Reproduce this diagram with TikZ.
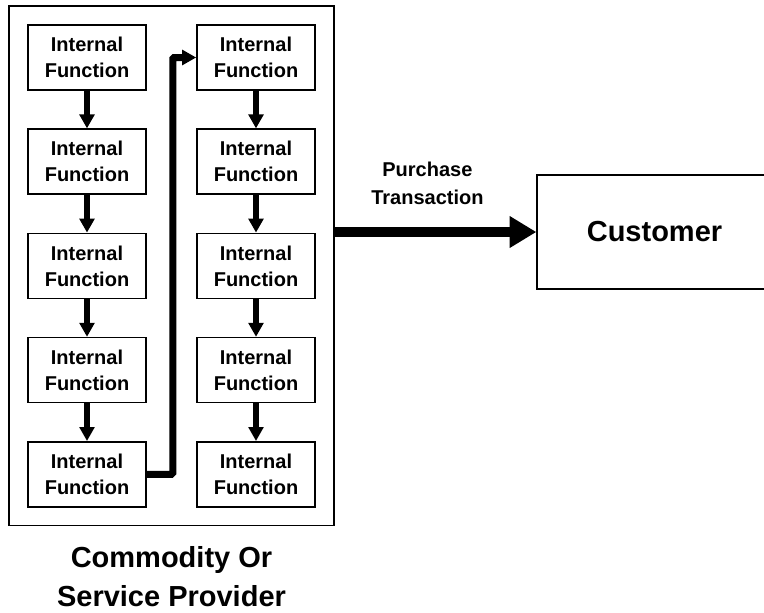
\documentclass[tikz,border=0pt]{standalone}
\usepackage{fontspec}
\setmainfont{Liberation Sans}
\usetikzlibrary{positioning,fit,arrows.meta}

\begin{document}
\begin{tikzpicture}[x=0.75pt,y=-0.75pt,node distance=28.2pt and 37.05pt]
    \tikzstyle{func}=[rectangle,draw,line width=1.2pt,minimum width=88.5pt,minimum height=48.75pt,inner sep=0,align=center,font=\bfseries\fontsize{15}{19.5}\selectfont]
    \tikzstyle{link}=[line width=4.5pt,-{Triangle[length=10.5pt,width=11pt]}]
    \tikzstyle{sale}=[line width=7.5pt,-{Triangle[length=20pt,width=22.5pt]}]
    \tikzstyle{big}=[font=\bfseries\fontsize{21.75}{29.25}\selectfont,align=center]
    \useasboundingbox (0,0) rectangle (764,612);
    \node[func] (L1) at (87,57.5) {Internal\\Function} ;
    \node[func] (L2) [below=of L1] {Internal\\Function} ;
    \node[func] (L3) [below=of L2] {Internal\\Function} ;
    \node[func] (L4) [below=of L3] {Internal\\Function} ;
    \node[func] (L5) [below=of L4] {Internal\\Function} ;
    \node[func] (R1) [right=of L1] {Internal\\Function} ;
    \node[func] (R2) [below=of R1] {Internal\\Function} ;
    \node[func] (R3) [below=of R2] {Internal\\Function} ;
    \node[func] (R4) [below=of R3] {Internal\\Function} ;
    \node[func] (R5) [below=of R4] {Internal\\Function} ;
    \node[draw,line width=1.2pt,fit=(L1)(R5),inner sep=13.5pt] (prov) {} ;
    \node[big,inner sep=0] (provname) [below=15pt of prov] {Commodity Or\\Service Provider} ;
    \node[big,draw,line width=1.2pt,minimum width=176pt,minimum height=85.5pt] (cust) at (654.5,232) {Customer} ;
    \draw[link] (L1) -- (L2) ;
    \draw[link] (L2) -- (L3) ;
    \draw[link] (L3) -- (L4) ;
    \draw[link] (L4) -- (L5) ;
    \draw[link] (R1) -- (R2) ;
    \draw[link] (R2) -- (R3) ;
    \draw[link] (R3) -- (R4) ;
    \draw[link] (R4) -- (R5) ;
    \draw[link,line width=5.25pt,rounded corners=1pt] (L5.east) -- ++(19.5pt,0) |- (R1.west) ;
    \draw[sale] (prov.east |- cust.west) -- (cust.west)
        node[pos=0.46,above=16.5pt,inner sep=0,align=center,font=\bfseries\fontsize{15}{21}\selectfont] (buy) {Purchase\\Transaction} ;
  \end{tikzpicture}
\end{document}
